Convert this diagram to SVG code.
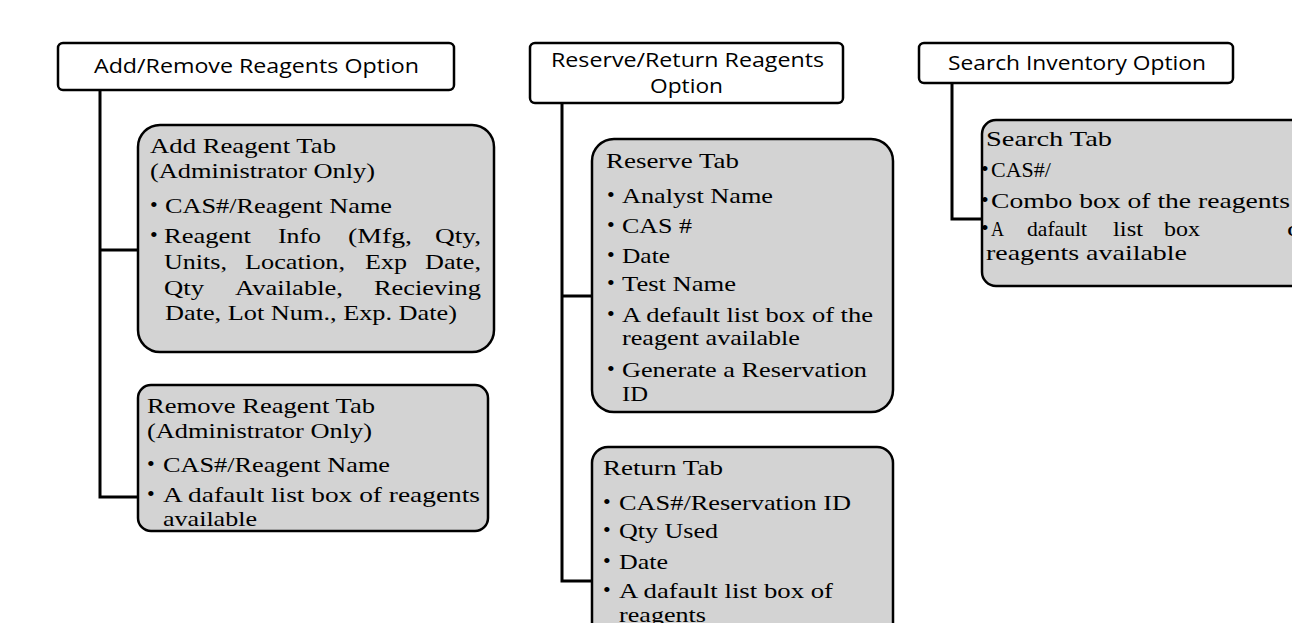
<svg xmlns="http://www.w3.org/2000/svg" width="1292" height="623" viewBox="0 0 1292 623">
<style>
.hdr{fill:#fff;stroke:#000;stroke-width:2.5}
.tab{fill:#d3d3d3;stroke:#000;stroke-width:2.5}
.ht{font-family:'Open Sans','Liberation Sans',sans-serif;font-size:20px;fill:#000}
.t{font-family:'Liberation Serif','DejaVu Serif',serif;font-size:22px;fill:#000}
.b{font-family:'Liberation Serif','DejaVu Serif',serif;font-size:22px;fill:#000}
.conn{fill:none;stroke:#000;stroke-width:3}
</style>
<rect width="1292" height="623" fill="#fff"/>
<g id="connectors">
<path class="conn" d="M100,90 V497 H138 M100,250 H138"/>
<path class="conn" d="M562,103 V581 H592 M562,296 H592"/>
<path class="conn" d="M952,83 V219 H982"/>
</g>
<g id="add-remove-option">
<rect class="hdr" x="58" y="43" width="396" height="47" rx="5"/>
<text class="ht" x="94" y="73" textLength="325" lengthAdjust="spacingAndGlyphs">Add/Remove Reagents Option</text>
</g>
<g id="add-reagent-tab" font-family="Liberation Serif, serif">
<rect class="tab" x="138" y="125" width="356" height="227" rx="22"/>
<text class="t" x="150" y="153" textLength="186" lengthAdjust="spacingAndGlyphs">Add Reagent Tab</text>
<text class="t" x="150" y="178" textLength="225" lengthAdjust="spacingAndGlyphs">(Administrator Only)</text>
<text class="b" x="150" y="212">•</text>
<text class="t" x="165" y="213" textLength="227" lengthAdjust="spacingAndGlyphs">CAS#/Reagent Name</text>
<text class="b" x="150" y="242">•</text>
<text class="t" x="164" y="243" textLength="87" lengthAdjust="spacingAndGlyphs">Reagent</text>
<text class="t" x="278" y="243" textLength="43" lengthAdjust="spacingAndGlyphs">Info</text>
<text class="t" x="348" y="243" textLength="64" lengthAdjust="spacingAndGlyphs">(Mfg,</text>
<text class="t" x="435" y="243" textLength="46" lengthAdjust="spacingAndGlyphs">Qty,</text>
<text class="t" x="164" y="269" textLength="63" lengthAdjust="spacingAndGlyphs">Units,</text>
<text class="t" x="245" y="269" textLength="100" lengthAdjust="spacingAndGlyphs">Location,</text>
<text class="t" x="365" y="269" textLength="42" lengthAdjust="spacingAndGlyphs">Exp</text>
<text class="t" x="425" y="269" textLength="56" lengthAdjust="spacingAndGlyphs">Date,</text>
<text class="t" x="164" y="295" textLength="40" lengthAdjust="spacingAndGlyphs">Qty</text>
<text class="t" x="235" y="295" textLength="108" lengthAdjust="spacingAndGlyphs">Available,</text>
<text class="t" x="374" y="295" textLength="107" lengthAdjust="spacingAndGlyphs">Recieving</text>
<text class="t" x="165" y="320" textLength="292" lengthAdjust="spacingAndGlyphs">Date, Lot Num., Exp. Date)</text>
</g>
<g id="remove-reagent-tab">
<rect class="tab" x="138" y="385" width="350" height="146" rx="13"/>
<text class="t" x="147" y="413" textLength="228" lengthAdjust="spacingAndGlyphs">Remove Reagent Tab</text>
<text class="t" x="147" y="438" textLength="225" lengthAdjust="spacingAndGlyphs">(Administrator Only)</text>
<text class="b" x="147" y="471">•</text>
<text class="t" x="163" y="472" textLength="227" lengthAdjust="spacingAndGlyphs">CAS#/Reagent Name</text>
<text class="b" x="147" y="501">•</text>
<text class="t" x="163" y="502" textLength="317" lengthAdjust="spacingAndGlyphs">A dafault list box of reagents</text>
<text class="t" x="163" y="526" textLength="94" lengthAdjust="spacingAndGlyphs">available</text>
</g>
<g id="reserve-return-option">
<rect class="hdr" x="530" y="43" width="313" height="60" rx="5"/>
<text class="ht" x="551" y="67" textLength="273" lengthAdjust="spacingAndGlyphs">Reserve/Return Reagents</text>
<text class="ht" x="650" y="93" textLength="73" lengthAdjust="spacingAndGlyphs">Option</text>
</g>
<g id="reserve-tab">
<rect class="tab" x="592" y="139" width="301" height="273" rx="22"/>
<text class="t" x="606" y="168" textLength="133" lengthAdjust="spacingAndGlyphs">Reserve Tab</text>
<text class="b" x="607" y="202">•</text>
<text class="t" x="622" y="203" textLength="151" lengthAdjust="spacingAndGlyphs">Analyst Name</text>
<text class="b" x="607" y="232">•</text>
<text class="t" x="622" y="233" textLength="70" lengthAdjust="spacingAndGlyphs">CAS #</text>
<text class="b" x="607" y="262">•</text>
<text class="t" x="622" y="263" textLength="48" lengthAdjust="spacingAndGlyphs">Date</text>
<text class="b" x="607" y="290">•</text>
<text class="t" x="622" y="291" textLength="114" lengthAdjust="spacingAndGlyphs">Test Name</text>
<text class="b" x="607" y="321">•</text>
<text class="t" x="622" y="322" textLength="251" lengthAdjust="spacingAndGlyphs">A default list box of the</text>
<text class="t" x="622" y="345" textLength="178" lengthAdjust="spacingAndGlyphs">reagent available</text>
<text class="b" x="607" y="376">•</text>
<text class="t" x="622" y="377" textLength="245" lengthAdjust="spacingAndGlyphs">Generate a Reservation</text>
<text class="t" x="622" y="401" textLength="26" lengthAdjust="spacingAndGlyphs">ID</text>
</g>
<g id="return-tab">
<rect class="tab" x="592" y="447" width="301" height="230" rx="16"/>
<text class="t" x="603" y="475" textLength="120" lengthAdjust="spacingAndGlyphs">Return Tab</text>
<text class="b" x="603" y="509">•</text>
<text class="t" x="619" y="510" textLength="232" lengthAdjust="spacingAndGlyphs">CAS#/Reservation ID</text>
<text class="b" x="603" y="537">•</text>
<text class="t" x="619" y="538" textLength="99" lengthAdjust="spacingAndGlyphs">Qty Used</text>
<text class="b" x="603" y="568">•</text>
<text class="t" x="619" y="569" textLength="49" lengthAdjust="spacingAndGlyphs">Date</text>
<text class="b" x="603" y="597">•</text>
<text class="t" x="619" y="598" textLength="214" lengthAdjust="spacingAndGlyphs">A dafault list box of</text>
<text class="t" x="619" y="622" textLength="87" lengthAdjust="spacingAndGlyphs">reagents</text>
</g>
<g id="search-inventory-option">
<rect class="hdr" x="919" y="43" width="314" height="40" rx="5"/>
<text class="ht" x="948" y="70" textLength="258" lengthAdjust="spacingAndGlyphs">Search Inventory Option</text>
</g>
<g id="search-tab">
<rect class="tab" x="982" y="120" width="340" height="166" rx="14"/>
<text class="t" x="986" y="146" textLength="126" lengthAdjust="spacingAndGlyphs">Search Tab</text>
<text class="b" x="981" y="176">•</text>
<text class="t" x="991" y="177" textLength="60" lengthAdjust="spacingAndGlyphs">CAS#/</text>
<text class="b" x="981" y="207">•</text>
<text class="t" x="991" y="208" textLength="299" lengthAdjust="spacingAndGlyphs">Combo box of the reagents</text>
<text class="b" x="981" y="235">•</text>
<text class="t" x="991" y="236" textLength="13" lengthAdjust="spacingAndGlyphs">A</text>
<text class="t" x="1027" y="236" textLength="60" lengthAdjust="spacingAndGlyphs">dafault</text>
<text class="t" x="1113" y="236" textLength="30" lengthAdjust="spacingAndGlyphs">list</text>
<text class="t" x="1164" y="236" textLength="36" lengthAdjust="spacingAndGlyphs">box</text>
<text class="t" x="1287" y="236" textLength="25" lengthAdjust="spacingAndGlyphs">of</text>
<text class="t" x="986" y="260" textLength="201" lengthAdjust="spacingAndGlyphs">reagents available</text>
</g>
</svg>
